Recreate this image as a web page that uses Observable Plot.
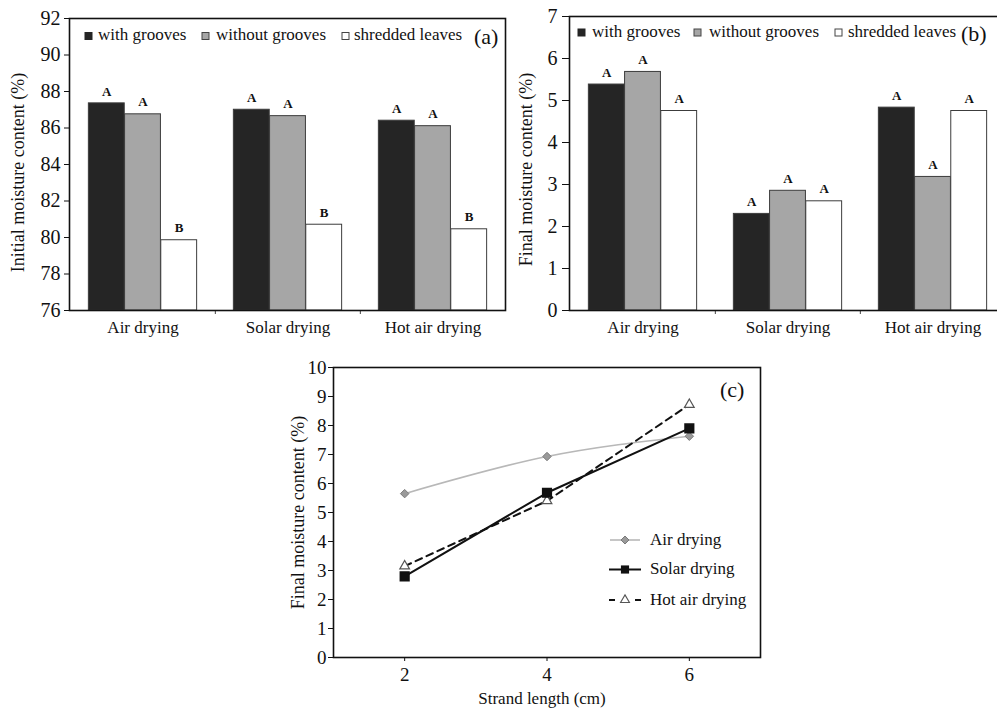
<!DOCTYPE html>
<html>
<head>
<meta charset="utf-8">
<script src="https://cdn.jsdelivr.net/npm/d3@7"></script>
<script src="https://cdn.jsdelivr.net/npm/@observablehq/plot@0.6"></script>
<style>
  html, body { margin: 0; padding: 0; background: #fff; }
  #root { position: relative; width: 997px; height: 710px; overflow: hidden; background: #fff; font-family: "Liberation Serif", "Times New Roman", Tinos, Times, serif; }
  #root > svg { position: absolute; }
  #root svg, #root svg text { font-family: "Liberation Serif", "Times New Roman", Tinos, Times, serif !important; }
</style>
</head>
<body>
<div id="root"></div>
<script>
// ---------- data ----------
const groups = ["Air drying", "Solar drying", "Hot air drying"];
const seriesNames = ["with grooves", "without grooves", "shredded leaves"];

// (a) initial moisture content (%)
const initialWithGrooves = [87.35, 87.0, 86.4];
const initialWithoutGrooves = [86.75, 86.65, 86.1];
const initialShredded = [79.85, 80.7, 80.45];
const initialLettersWith = ["A", "A", "A"];
const initialLettersWithout = ["A", "A", "A"];
const initialLettersShredded = ["B", "B", "B"];
const yTicksA = [76, 78, 80, 82, 84, 86, 88, 90, 92];

// (b) final moisture content (%)
const finalWithGrooves = [5.38, 2.3, 4.83];
const finalWithoutGrooves = [5.68, 2.85, 3.18];
const finalShredded = [4.75, 2.6, 4.75];
const finalLettersWith = ["A", "A", "A"];
const finalLettersWithout = ["A", "A", "A"];
const finalLettersShredded = ["A", "A", "A"];
const yTicksB = [0, 1, 2, 3, 4, 5, 6, 7];

// (c) final moisture content vs strand length
const strandLength = [2, 4, 6];
const airDrying = [5.65, 6.93, 7.63];
const solarDrying = [2.8, 5.68, 7.9];
const hotAirDrying = [3.15, 5.4, 8.72];
const methods = ["Air drying", "Solar drying", "Hot air drying"];
const xTicksC = [2, 4, 6];
const yTicksC = [0, 1, 2, 3, 4, 5, 6, 7, 8, 9, 10];

// ---------- styles ----------
const barFills = ["#252525", "#a6a6a6", "#ffffff"];
const barW = 36.2;
const font = "'Liberation Serif', 'Times New Roman', Tinos, Times, serif";
const intFmt = d => String(d);
const root = document.getElementById("root");

function barPanel(o) {
  const rows = [];
  seriesNames.forEach((s, si) => groups.forEach((g, gi) =>
    rows.push({group: g, series: s, si, value: o.values[si][gi], letter: o.letters[si][gi]})));
  const bw = (o.width - o.mL - o.mR) / groups.length;
  const inset = (bw - barW) / 2;
  const yBase = o.yDomain[0];
  const pxPerUnit = (o.height - o.mT - o.mB) / (o.yDomain[1] - o.yDomain[0]);
  const marks = [];
  seriesNames.forEach((s, si) => {
    const sub = rows.filter(d => d.si === si);
    marks.push(Plot.barY(sub, {
      x: "group", y1: yBase, y2: "value", fill: barFills[si],
      stroke: "#3c3c3c", strokeWidth: 1, insetLeft: inset, insetRight: inset, dx: (si - 1) * barW
    }));
    marks.push(Plot.text(sub, {
      x: "group", y: "value", text: "letter", dx: (si - 1) * barW, dy: -12,
      fontWeight: "bold", fontSize: 13, fill: "#111"
    }));
  });
  marks.push(Plot.ruleX(groups.slice(1), {x: d => d, y1: yBase, y2: yBase - 4 / pxPerUnit, dx: -bw / 2, stroke: "#444", strokeWidth: 1}));
  marks.push(Plot.frame({stroke: "#111", strokeWidth: 1.6}));
  marks.push(Plot.axisY({ticks: o.yTicks, tickFormat: intFmt, tickSize: o.tickSize, tickPadding: o.tickPadding, fontSize: 20, label: null, stroke: "#111"}));
  marks.push(Plot.axisX({tickSize: 0, tickPadding: 10, fontSize: 17, label: null}));
  marks.push(Plot.text([o.yLabel], {text: d => d, frameAnchor: "left", textAnchor: "middle", lineAnchor: "middle", rotate: -90, dx: o.yLabelDx, dy: o.yLabelDy, fontSize: 18, fill: "#111"}));
  const svg = Plot.plot({
    width: o.width, height: o.height,
    marginLeft: o.mL, marginRight: o.mR, marginTop: o.mT, marginBottom: o.mB,
    style: {fontFamily: font, fontSize: "17px", color: "#111", background: "transparent", overflow: "visible"},
    x: {domain: groups, padding: 0, axis: null},
    y: {domain: o.yDomain, axis: null},
    marks
  });
  svg.style.left = o.left + "px";
  svg.style.top = o.top + "px";
  root.appendChild(svg);
}

barPanel({
  values: [initialWithGrooves, initialWithoutGrooves, initialShredded],
  letters: [initialLettersWith, initialLettersWithout, initialLettersShredded],
  yDomain: [76, 92], yTicks: yTicksA, yLabel: "Initial moisture content (%)",
  width: 520, height: 340, mL: 69, mR: 15, mT: 18, mB: 30, left: 0, top: 0,
  yLabelDx: -51, yLabelDy: 8, tickSize: 5, tickPadding: 4
});

barPanel({
  values: [finalWithGrooves, finalWithoutGrooves, finalShredded],
  letters: [finalLettersWith, finalLettersWithout, finalLettersShredded],
  yDomain: [0, 7], yTicks: yTicksB, yLabel: "Final moisture content (%)",
  width: 520, height: 340, mL: 69, mR: 15, mT: 16, mB: 30, left: 500, top: 0,
  yLabelDx: -43, yLabelDy: 6, tickSize: 7, tickPadding: 5
});

// (c)
const lineRows = [];
[airDrying, solarDrying, hotAirDrying].forEach((arr, mi) =>
  strandLength.forEach((x, i) => lineRows.push({method: methods[mi], length: x, value: arr[i]})));
const byMethod = m => lineRows.filter(d => d.method === m);

const svgC = Plot.plot({
  width: 500, height: 370,
  marginLeft: 63, marginRight: 10, marginTop: 27, marginBottom: 53,
  style: {fontFamily: font, fontSize: "17px", color: "#111", background: "transparent", overflow: "visible"},
  x: {domain: [1, 7], axis: null},
  y: {domain: [0, 10], axis: null},
  marks: [
    Plot.line(byMethod("Air drying"), {x: "length", y: "value", stroke: "#b8b8b8", strokeWidth: 1.6, curve: "natural"}),
    Plot.line(byMethod("Hot air drying"), {x: "length", y: "value", stroke: "#111", strokeWidth: 2, strokeDasharray: "7,5"}),
    Plot.line(byMethod("Solar drying"), {x: "length", y: "value", stroke: "#111", strokeWidth: 2}),
    Plot.dot(byMethod("Air drying"), {x: "length", y: "value", symbol: "diamond2", r: 3.8, fill: "#9a9a9a", stroke: "#7a7a7a", strokeWidth: 1}),
    Plot.dot(byMethod("Hot air drying"), {x: "length", y: "value", symbol: "triangle", r: 3.6, fill: "#fff", stroke: "#555", strokeWidth: 1.2}),
    Plot.dot(byMethod("Solar drying"), {x: "length", y: "value", symbol: "square", r: 4.9, fill: "#111", stroke: "#111"}),
    Plot.frame({stroke: "#111", strokeWidth: 1.6}),
    Plot.axisY({ticks: yTicksC, tickFormat: intFmt, tickSize: 5, tickPadding: 2, fontSize: 19, label: null, stroke: "#111"}),
    Plot.axisX({ticks: xTicksC, tickFormat: intFmt, tickSize: 4, tickPadding: 6, fontSize: 19, label: null, stroke: "#111"}),
    Plot.text(["Final moisture content (%)"], {text: d => d, frameAnchor: "left", textAnchor: "middle", lineAnchor: "middle", rotate: -90, dx: -35, fontSize: 18, fill: "#111"}),
    Plot.text(["Strand length (cm)"], {text: d => d, frameAnchor: "bottom", textAnchor: "middle", lineAnchor: "middle", dy: 41, dx: -5, fontSize: 17, fill: "#111"})
  ]
});
svgC.style.left = "270px";
svgC.style.top = "340px";
root.appendChild(svgC);

// ---------- legends & panel labels (overlay) ----------
const ov = d3.select(root).append("svg")
  .attr("width", 997).attr("height", 710)
  .style("left", "0px").style("top", "0px")
  .style("font-family", font).style("pointer-events", "none");

function barLegend(items, baseline, label, labelX, labelBaseline) {
  items.forEach((it, i) => {
    ov.append("rect").attr("x", it.sx).attr("y", baseline - 7.5).attr("width", 7).attr("height", 7)
      .attr("fill", barFills[i]).attr("stroke", i === 0 ? "#252525" : "#444").attr("stroke-width", 1);
    ov.append("text").attr("x", it.tx).attr("y", baseline).attr("font-size", 17).attr("fill", "#111").text(seriesNames[i]);
  });
  ov.append("text").attr("x", labelX).attr("y", labelBaseline).attr("font-size", 22).attr("fill", "#111").text(label);
}
barLegend([{sx: 85, tx: 98}, {sx: 202, tx: 216}, {sx: 342, tx: 354}], 40, "(a)", 474, 43.5);
barLegend([{sx: 578, tx: 592}, {sx: 694, tx: 709}, {sx: 835, tx: 848}], 36.5, "(b)", 961, 40.5);

ov.append("text").attr("x", 720).attr("y", 397).attr("font-size", 22).attr("fill", "#111").text("(c)");

const legC = [
  {name: "Air drying", y: 540, base: 544.5},
  {name: "Solar drying", y: 569.5, base: 574},
  {name: "Hot air drying", y: 600, base: 604.5}
];
// Air drying sample
ov.append("line").attr("x1", 610).attr("x2", 640).attr("y1", legC[0].y).attr("y2", legC[0].y).attr("stroke", "#b8b8b8").attr("stroke-width", 1.6);
ov.append("path").attr("d", d3.symbol(d3.symbolDiamond2, Math.PI * 3.6 * 3.6)()).attr("transform", `translate(625,${legC[0].y})`).attr("fill", "#9a9a9a").attr("stroke", "#7a7a7a");
// Solar drying sample
ov.append("line").attr("x1", 609).attr("x2", 641).attr("y1", legC[1].y).attr("y2", legC[1].y).attr("stroke", "#111").attr("stroke-width", 2);
ov.append("path").attr("d", d3.symbol(d3.symbolSquare, Math.PI * 4.6 * 4.6)()).attr("transform", `translate(625,${legC[1].y})`).attr("fill", "#111");
// Hot air drying sample
ov.append("line").attr("x1", 609).attr("x2", 615).attr("y1", legC[2].y).attr("y2", legC[2].y).attr("stroke", "#111").attr("stroke-width", 2);
ov.append("line").attr("x1", 635).attr("x2", 641).attr("y1", legC[2].y).attr("y2", legC[2].y).attr("stroke", "#111").attr("stroke-width", 2);
ov.append("path").attr("d", d3.symbol(d3.symbolTriangle, Math.PI * 3.3 * 3.3)()).attr("transform", `translate(625,${legC[2].y})`).attr("fill", "#fff").attr("stroke", "#555").attr("stroke-width", 1.1);
legC.forEach(d => ov.append("text").attr("x", 650).attr("y", d.base).attr("font-size", 17).attr("fill", "#111").text(d.name));
</script>
</body>
</html>
